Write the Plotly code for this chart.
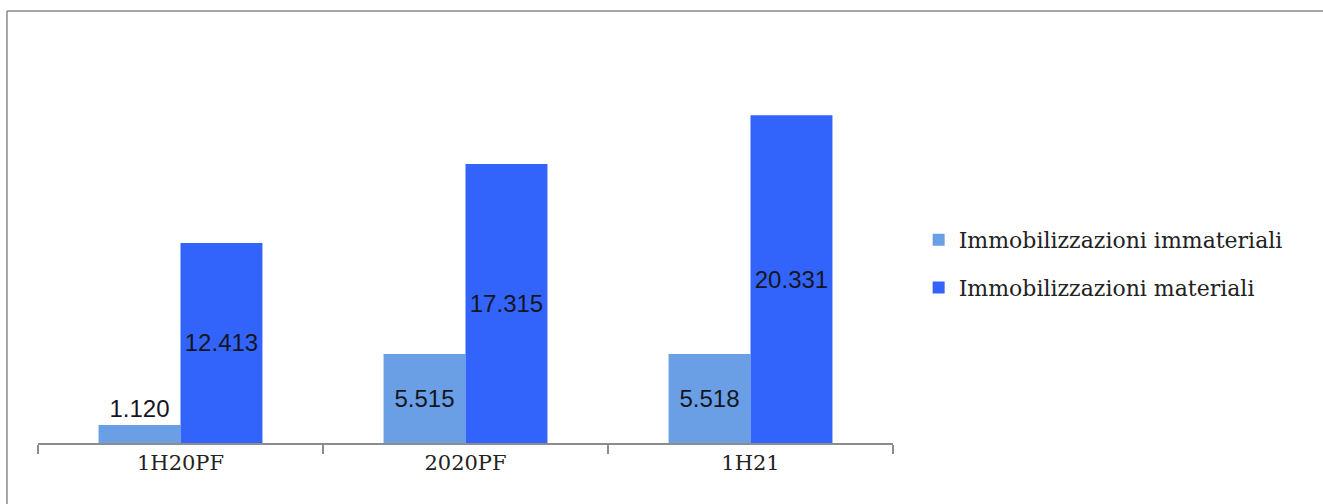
import plotly.graph_objects as go

categories = ["1H20PF", "2020PF", "1H21"]
immateriali = [1120, 5515, 5518]
materiali = [12413, 17315, 20331]
labels_imm = ["1.120", "5.515", "5.518"]
labels_mat = ["12.413", "17.315", "20.331"]
series_names = ["Immobilizzazioni immateriali", "Immobilizzazioni materiali"]

label_font = dict(family="Liberation Sans, Arial, sans-serif", size=24, color="#15151f")

fig = go.Figure()
fig.add_trace(go.Bar(
    x=categories, y=immateriali, name=series_names[0], legendgroup="a",
    marker=dict(color="#6a9fe6", line=dict(width=0)),
    text=labels_imm, textposition="auto", textangle=0,
    insidetextfont=label_font, outsidetextfont=label_font,
    insidetextanchor="middle", cliponaxis=False,
))
fig.add_trace(go.Bar(
    x=categories, y=materiali, name=series_names[1], legendgroup="b",
    marker=dict(color="#3264fb", line=dict(width=0)),
    text=labels_mat, textposition="auto", textangle=0,
    insidetextfont=label_font, outsidetextfont=label_font,
    insidetextanchor="middle", cliponaxis=False,
))

fig.update_layout(
    width=1323, height=504,
    margin=dict(l=38, r=430, t=40, b=61),
    paper_bgcolor="white", plot_bgcolor="white",
    barmode="group", bargap=0.425, bargroupgap=0,
    showlegend=True,
    legend=dict(
        x=1.03, y=0.444, xanchor="left", yanchor="middle",
        font=dict(family="DejaVu Serif, serif", size=22, color="#222222"),
        tracegroupgap=16, itemwidth=30,
        bgcolor="rgba(0,0,0,0)",
    ),
    xaxis=dict(
        showline=True, linecolor="#8c8c8c", linewidth=1.5,
        ticks="outside", tickson="boundaries", ticklen=9, tickcolor="#8c8c8c", tickwidth=1.5,
        tickfont=dict(family="DejaVu Serif, serif", size=21, color="#222222"),
        showgrid=False,
    ),
    yaxis=dict(range=[0, 25000], visible=False, showgrid=False, zeroline=False),
    shapes=[
        dict(type="line", xref="paper", yref="paper",
             x0=-0.0363, x1=1.6, y0=1.072, y1=1.072,
             line=dict(color="#8a8a8a", width=1.5), layer="below"),
        dict(type="line", xref="paper", yref="paper",
             x0=-0.0363, x1=-0.0363, y0=-0.6, y1=1.072,
             line=dict(color="#8a8a8a", width=1.5), layer="below"),
    ],
)

fig.write_html("out.html")
